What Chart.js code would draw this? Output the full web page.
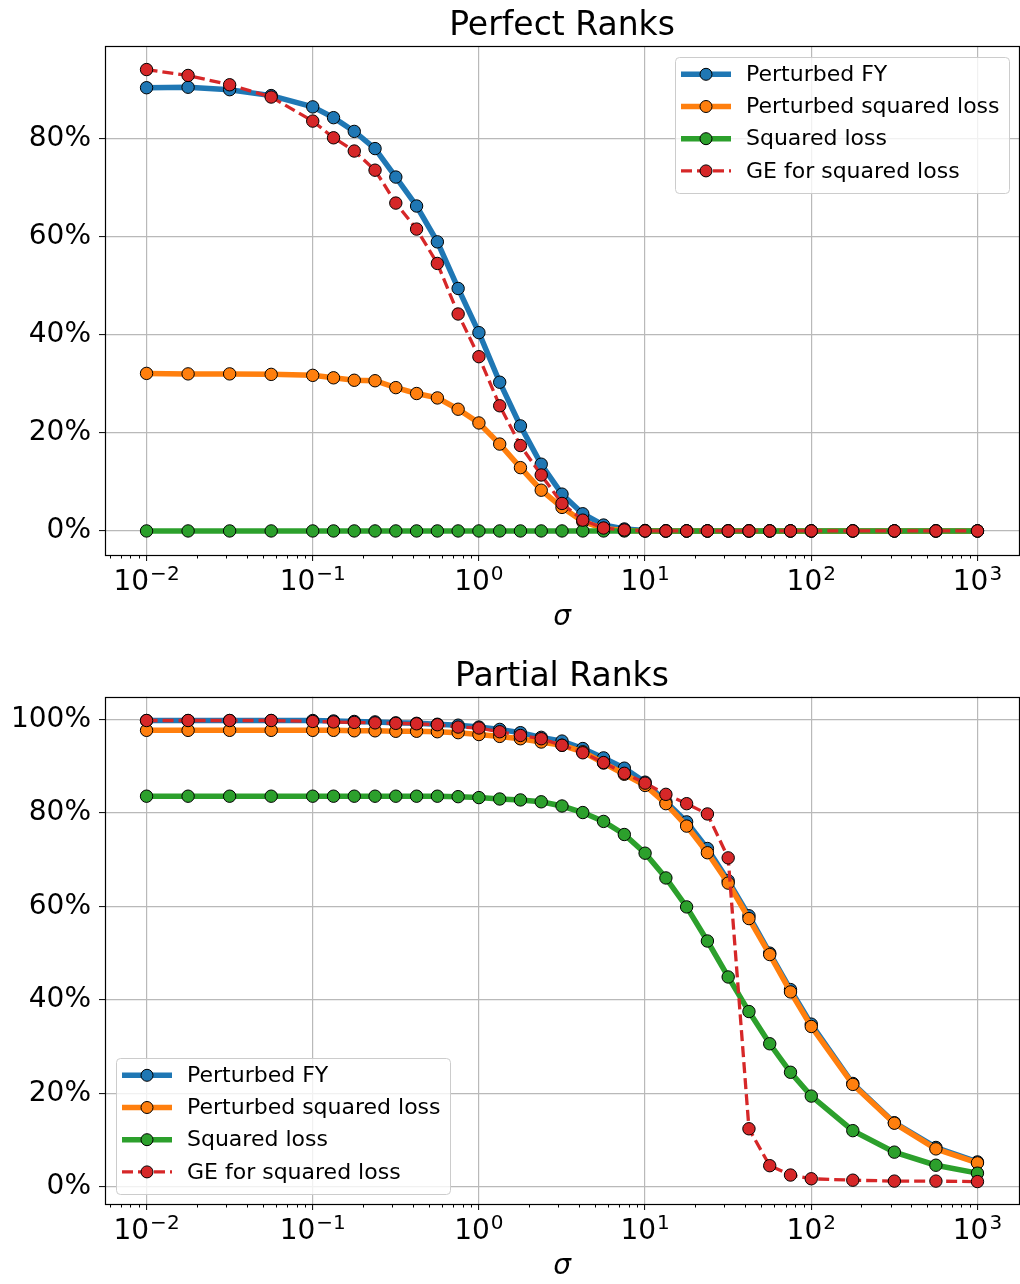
<!DOCTYPE html>
<html>
<head>
<meta charset="utf-8">
<script src="https://cdn.jsdelivr.net/npm/chart.js@4.4.1/dist/chart.umd.min.js"></script>
<style>
  body { margin: 0; background: #fff; }
  .chartBox { position: absolute; left: 0; width: 1020px; height: 642px; }
</style>
</head>
<body>
<div class="chartBox" style="top:0"><canvas id="perfectChart"></canvas></div>
<div class="chartBox" style="top:642px"><canvas id="partialChart"></canvas></div>
<script>
// sigma values (x axis, log scale)
const sigmaValues = [0.01, 0.01778, 0.03162, 0.05623, 0.1, 0.1334, 0.1778, 0.2371, 0.3162, 0.4217, 0.5623, 0.7499,
  1, 1.334, 1.778, 2.371, 3.162, 4.217, 5.623, 7.499, 10, 13.34, 17.78, 23.71, 31.62, 42.17, 56.23, 74.99,
  100, 177.8, 316.2, 562.3, 1000];

const seriesNames = ['Perturbed FY', 'Perturbed squared loss', 'Squared loss', 'GE for squared loss'];
const seriesColors = ['#1f77b4', '#ff7f0e', '#2ca02c', '#d62728'];

// Perfect Ranks (%)
const perfectFY = [90.3, 90.4, 89.9, 88.7, 86.4, 84.2, 81.4, 77.9, 72.1, 66.2, 58.9, 49.4, 40.4, 30.3, 21.4, 13.6,
  7.5, 3.5, 1.2, 0.4, 0.1, 0, 0, 0, 0, 0, 0, 0, 0, 0, 0, 0, 0];
const perfectPerturbedSq = [32.1, 32.0, 32.0, 31.9, 31.7, 31.2, 30.7, 30.6, 29.2, 28.0, 27.1, 24.8, 22.0, 17.7, 12.9,
  8.3, 4.8, 1.9, 0.5, 0.1, 0, 0, 0, 0, 0, 0, 0, 0, 0, 0, 0, 0, 0];
const perfectSquared = [0, 0, 0, 0, 0, 0, 0, 0, 0, 0, 0, 0, 0, 0, 0, 0, 0, 0, 0, 0, 0, 0, 0, 0, 0, 0, 0, 0, 0, 0, 0, 0, 0];
const perfectGE = [94.0, 92.8, 90.9, 88.4, 83.5, 80.1, 77.4, 73.5, 66.8, 61.5, 54.5, 44.2, 35.5, 25.5, 17.4, 11.4,
  5.6, 2.2, 0.6, 0.2, 0, 0, 0, 0, 0, 0, 0, 0, 0, 0, 0, 0, 0];

// Partial Ranks (%)
const partialFY = [99.8, 99.8, 99.8, 99.8, 99.8, 99.7, 99.6, 99.5, 99.3, 99.2, 99.0, 98.8, 98.4, 97.9, 97.2, 96.2,
  95.4, 93.8, 91.8, 89.6, 86.6, 82.4, 78.1, 72.4, 65.5, 58.0, 50.0, 42.2, 34.8, 22.1, 13.7, 8.4, 5.3];
const partialPerturbedSq = [97.7, 97.7, 97.7, 97.7, 97.7, 97.7, 97.6, 97.6, 97.5, 97.5, 97.4, 97.2, 96.8, 96.4, 95.9,
  95.2, 94.5, 93.1, 90.7, 88.3, 85.9, 82.0, 77.2, 71.5, 65.0, 57.4, 49.7, 41.7, 34.3, 21.9, 13.6, 8.1, 5.1];
const partialSquared = [83.6, 83.6, 83.6, 83.6, 83.6, 83.6, 83.6, 83.6, 83.6, 83.6, 83.6, 83.5, 83.3, 83.0, 82.8,
  82.4, 81.5, 80.1, 78.2, 75.4, 71.4, 66.1, 59.9, 52.6, 44.9, 37.5, 30.6, 24.5, 19.4, 12.0, 7.4, 4.6, 2.9];
const partialGE = [99.8, 99.8, 99.8, 99.8, 99.6, 99.5, 99.4, 99.3, 99.2, 99.1, 98.9, 98.4, 98.2, 97.4, 96.6, 95.9,
  94.5, 92.9, 90.8, 88.5, 86.4, 84.0, 82.0, 79.8, 70.4, 12.4, 4.5, 2.5, 1.7, 1.4, 1.2, 1.2, 1.1];

// ticks
const xTickValues = [0.01, 0.1, 1, 10, 100, 1000];
const xTickExponents = ['\u22122', '\u22121', '0', '1', '2', '3'];
const perfectYTicks = [0, 20, 40, 60, 80];
const partialYTicks = [0, 20, 40, 60, 80, 100];

Chart.defaults.font.family = "'DejaVu Sans', sans-serif";
Chart.defaults.color = '#000';

const FONT = "'DejaVu Sans', sans-serif";
const GRID = '#b9b9b9';

// title, sigma label, spines, minor ticks, 10^n tick labels and legend box (matplotlib look)
const mplLook = {
  id: 'mplLook',
  afterDraw(chart, args, opts) {
    const { ctx, chartArea: a, scales } = chart;
    const xs = scales.x;
    const cx = (a.left + a.right) / 2;
    ctx.save();

    // title
    ctx.fillStyle = '#000';
    ctx.textAlign = 'center';
    ctx.textBaseline = 'alphabetic';
    ctx.font = '33px ' + FONT;
    ctx.fillText(opts.title, cx, a.top - 11);

    // x axis label
    ctx.font = 'italic 28px ' + FONT;
    ctx.fillText('\u03c3', cx, a.bottom + 70);

    // minor ticks
    ctx.strokeStyle = '#000';
    ctx.lineWidth = 1;
    for (let e = -3; e <= 3; e++) {
      for (let k = 2; k <= 9; k++) {
        const v = k * Math.pow(10, e);
        if (v < xs.min || v > xs.max) continue;
        const px = Math.round(xs.getPixelForValue(v)) + 0.5;
        ctx.beginPath();
        ctx.moveTo(px, a.bottom);
        ctx.lineTo(px, a.bottom + 3.5);
        ctx.stroke();
      }
    }

    // tick labels 10^n
    ctx.textAlign = 'left';
    xTickValues.forEach((v, i) => {
      const px = xs.getPixelForValue(v);
      ctx.font = '28px ' + FONT;
      const wBase = ctx.measureText('10').width;
      ctx.font = '20px ' + FONT;
      const wExp = ctx.measureText(xTickExponents[i]).width;
      const x0 = px - (wBase + 1 + wExp) / 2;
      const base = a.bottom + 35;
      ctx.font = '28px ' + FONT;
      ctx.fillText('10', x0, base);
      ctx.font = '20px ' + FONT;
      ctx.fillText(xTickExponents[i], x0 + wBase + 1, base - 10);
    });

    // spines
    ctx.strokeStyle = '#000';
    ctx.lineWidth = 1.2;
    ctx.strokeRect(Math.round(a.left) + 0.5, Math.round(a.top) + 0.5,
      Math.round(a.right - a.left), Math.round(a.bottom - a.top));

    // legend
    const bw = 334, bh = 136;
    const bx = opts.corner === 'topright' ? a.right - 10 - bw : a.left + 11;
    const by = opts.corner === 'topright' ? a.top + 11 : a.bottom - 10 - bh;
    ctx.beginPath();
    ctx.roundRect(bx + 0.5, by + 0.5, bw, bh, 4);
    ctx.fillStyle = 'rgba(255,255,255,0.8)';
    ctx.fill();
    ctx.strokeStyle = '#cccccc';
    ctx.lineWidth = 1;
    ctx.stroke();
    chart.data.datasets.forEach((ds, i) => {
      const ry = by + 17.3 + i * 32.2;
      ctx.beginPath();
      ctx.setLineDash(ds.borderDash || []);
      ctx.strokeStyle = ds.borderColor;
      ctx.lineWidth = ds.borderWidth;
      ctx.moveTo(bx + 6, ry);
      ctx.lineTo(bx + 56, ry);
      ctx.stroke();
      ctx.setLineDash([]);
      ctx.beginPath();
      ctx.arc(bx + 31, ry, 6, 0, Math.PI * 2);
      ctx.fillStyle = ds.pointBackgroundColor;
      ctx.fill();
      ctx.strokeStyle = '#000';
      ctx.lineWidth = 1;
      ctx.stroke();
      ctx.fillStyle = '#000';
      ctx.font = '22px ' + FONT;
      ctx.textBaseline = 'middle';
      ctx.fillText(ds.label, bx + 71, ry + 1);
    });
    ctx.restore();
  }
};

function makeChart(id, cfg) {
  const series = cfg.series;
  return new Chart(document.getElementById(id), {
    type: 'line',
    data: {
      datasets: series.map((vals, i) => ({
        label: seriesNames[i],
        data: vals.map((v, j) => ({ x: sigmaValues[j], y: v })),
        borderColor: seriesColors[i],
        backgroundColor: seriesColors[i],
        borderWidth: i === 3 ? 3.3 : 5.5,
        borderDash: i === 3 ? [11, 5] : [],
        pointRadius: 6.2,
        pointBackgroundColor: seriesColors[i],
        pointBorderColor: '#000',
        pointBorderWidth: 1,
        tension: 0,
        order: 3 - i
      }))
    },
    options: {
      responsive: true,
      maintainAspectRatio: false,
      animation: false,
      layout: { autoPadding: false, padding: { top: cfg.topPad, right: 1, bottom: cfg.bottomPad, left: 0 } },
      plugins: {
        legend: { display: false },
        tooltip: { enabled: false },
        title: { display: false },
        mplLook: { corner: cfg.legendCorner, title: cfg.title }
      },
      scales: {
        x: {
          type: 'logarithmic',
          min: 0.005623,
          max: 1778.3,
          afterBuildTicks: s => { s.ticks = xTickValues.map(v => ({ value: v })); },
          afterFit: s => { s.height = 80; },
          ticks: { display: false },
          grid: { color: GRID, lineWidth: 1.2, tickLength: 6, tickColor: '#000', tickWidth: 1 },
          border: { display: false }
        },
        y: {
          type: 'linear',
          min: cfg.yMin,
          max: cfg.yMax,
          afterBuildTicks: s => { s.ticks = cfg.yTicks.map(v => ({ value: v })); },
          afterFit: s => { s.width = 105; },
          ticks: { callback: v => v + '%', font: { size: 28 }, padding: 8, color: '#000' },
          grid: { color: GRID, lineWidth: 1.2, tickLength: 6, tickColor: '#000', tickWidth: 1 },
          border: { display: false }
        }
      }
    },
    plugins: [mplLook]
  });
}

makeChart('perfectChart', {
  title: 'Perfect Ranks',
  series: [perfectFY, perfectPerturbedSq, perfectSquared, perfectGE],
  yTicks: perfectYTicks,
  yMin: -4.9, yMax: 98.8,
  topPad: 46,
  bottomPad: 7,
  legendCorner: 'topright'
});

makeChart('partialChart', {
  title: 'Partial Ranks',
  series: [partialFY, partialPerturbedSq, partialSquared, partialGE],
  yTicks: partialYTicks,
  yMin: -3.7, yMax: 104.9,
  topPad: 54.7,
  bottomPad: 0,
  legendCorner: 'bottomleft'
});
</script>
</body>
</html>
